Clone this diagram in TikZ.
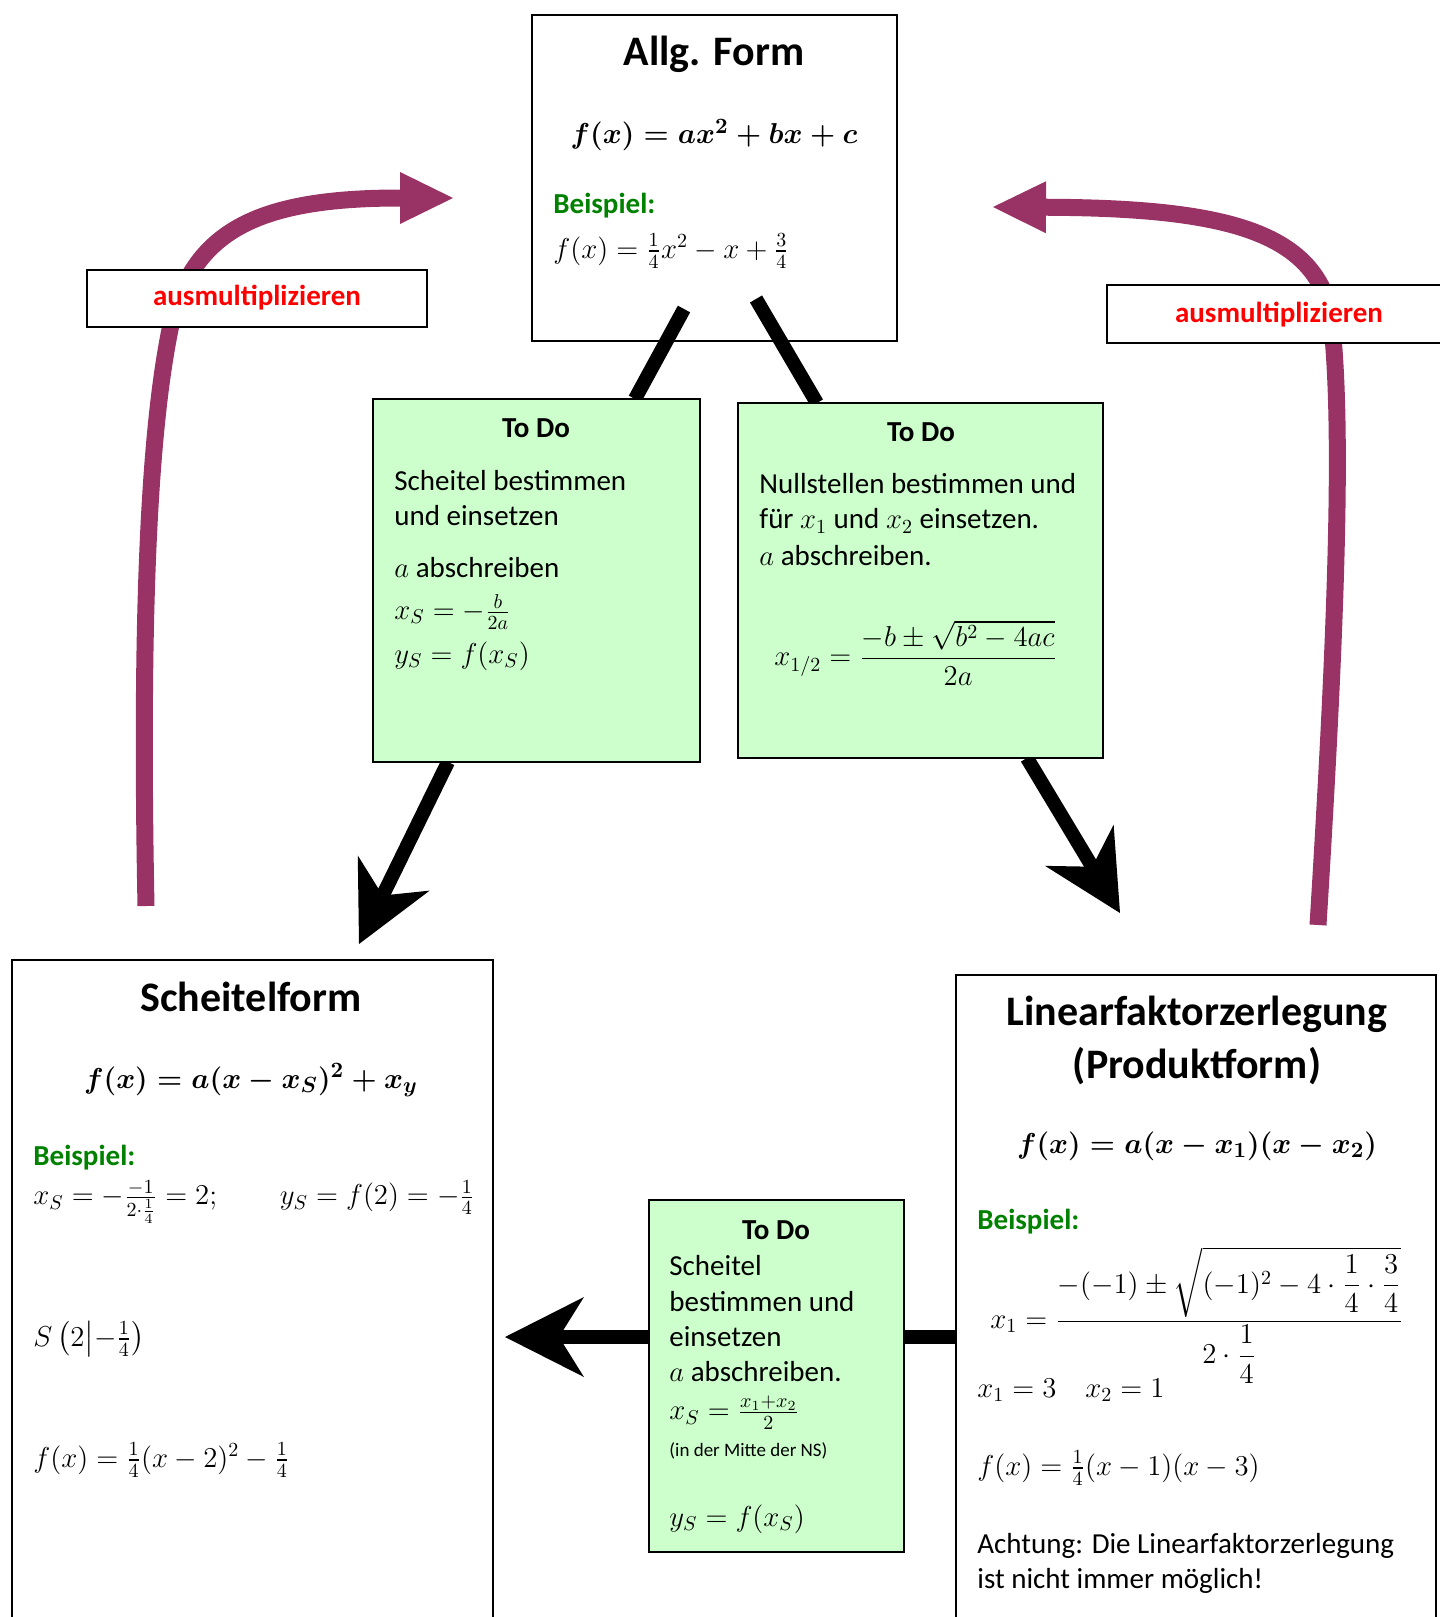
\documentclass[tikz,border=0pt]{standalone}
\usepackage{amsmath}
\usepackage{fontspec}
\setmainfont{Carlito}
\usetikzlibrary{arrows.meta,fit}
\definecolor{pur}{RGB}{153,51,102}
\definecolor{bgreen}{RGB}{0,130,0}
\definecolor{gbox}{RGB}{204,255,204}
\definecolor{lred}{RGB}{255,0,0}
\pgfdeclarelayer{bg}
\pgfsetlayers{bg,main}
\begin{document}
\begin{tikzpicture}[x=0.5pt,y=-0.5pt,
  frame/.style={draw=black, line width=1pt, inner sep=0pt, outer sep=0pt},
  greenbox/.style={frame, fill=gbox},
  labbox/.style={frame, fill=white},
  txt/.style={inner sep=0pt, anchor=west, font=\fontsize{14.5}{17}\selectfont},
  ttl/.style={inner sep=0pt, font=\fontsize{21}{25}\selectfont\bfseries},
  bsp/.style={inner sep=0pt, anchor=west, font=\fontsize{14.5}{17}\selectfont\bfseries, text=bgreen},
  todo/.style={inner sep=0pt, font=\fontsize{14.5}{17}\selectfont\bfseries},
  lab/.style={inner sep=0pt, font=\fontsize{14.5}{17}\selectfont\bfseries, text=lred},
  mathbig/.style={inner sep=0pt, font=\fontsize{15.5}{19}\selectfont},
  smalltxt/.style={inner sep=0pt, anchor=west, font=\fontsize{9.5}{11}\selectfont},
  blk/.style={line width=7pt, draw=black},
  blkarrow/.style={blk, -{Stealth[length=39.5pt,width=40pt,inset=12.5pt,line width=0pt]}},
  purarrow/.style={line width=8.5pt, draw=pur, -{Triangle[length=26.5pt,width=26pt,line width=0pt]}}
]
\useasboundingbox (0,0) rectangle (1440,1617);
\clip (0,0) rectangle (1440,1617);

% boxes
\node[frame, fit={(532,15) (897,341)}] (allg) {};
\node[greenbox, fit={(373,399) (700,762)}] (todo1) {};
\node[greenbox, fit={(738,403) (1103,758)}] (todo2) {};
\node[frame, fill=white, fit={(12,960) (493,1640)}] (scheitel) {};
\node[frame, fill=white, fit={(956,975) (1436,1640)}] (linear) {};
\node[greenbox, fit={(649,1200) (904,1552)}] (todo3) {};
\node[labbox, fit={(87,270) (427,327)}] (lab1) {};
\node[labbox, fit={(1107,285) (1452,343)}] (lab2) {};

% coordinates for free ends
\coordinate (c1s) at (684,309);
\coordinate (c2s) at (756,299);
\coordinate (t1) at (359,944);
\coordinate (t2) at (1120,913);
\coordinate (t3) at (505,1337);
\coordinate (p1s) at (146,906);
\coordinate (p1e) at (453,198);
\coordinate (p2s) at (1318,925);
\coordinate (p2e) at (993,207);

\begin{pgfonlayer}{bg}
  \fill[white] (0,0) rectangle (1440,1617);
  \draw[blk] (c1s) -- (todo1);
  \draw[blk] (c2s) -- (todo2);
  \draw[blkarrow] (todo1) -- (t1);
  \draw[blkarrow] (todo2) -- (t2);
  \draw[blkarrow] (t3 -| linear.west) -- (t3);
  \draw[purarrow] (p1s) .. controls (140,600) and (150,420) .. (172,320)
                        .. controls (195,230) and (260,198) .. (p1e);
  \draw[purarrow] (p2s) .. controls (1335,650) and (1345,420) .. (1330,310)
                        .. controls (1310,230) and (1220,208) .. (p2e);
\end{pgfonlayer}

% labels
\node[lab] (lab1t) at (257,298) {ausmultiplizieren};
\node[lab] (lab2t) at (1279,315) {ausmultiplizieren};

% Allg. Form
\node[ttl] (allgT) at (714,54) {Allg. Form};
\node[mathbig] (allgF) at (714,135) {$\boldsymbol{f(x)=ax^2+bx+c}$};
\node[bsp] (allgB) at (553,206) {Beispiel:};
\node[txt] (allgE) at (553,251) {$f(x)=\frac{1}{4}x^2-x+\frac{3}{4}$};

% To Do 1
\node[todo] (td1T) at (536,428) {To Do};
\node[txt] (td1a) at (394,481) {Scheitel bestimmen};
\node[txt] (td1b) at (394,516) {und einsetzen};
\node[txt] (td1c) at (394,568) {$a$ abschreiben};
\node[txt] (td1d) at (394,612) {$x_S=-\frac{b}{2a}$};
\node[txt] (td1e) at (394,656) {$y_S=f(x_S)$};

% To Do 2
\node[todo] (td2T) at (921,432) {To Do};
\node[txt] (td2a) at (759,484) {Nullstellen bestimmen und};
\node[txt] (td2b) at (759,521) {für $x_1$ und $x_2$ einsetzen.};
\node[txt] (td2c) at (759,556) {$a$ abschreiben.};
\node[txt] (td2d) at (774,653) {$x_{1/2}=\dfrac{-b\pm\sqrt{b^2-4ac}}{2a}$};

% Scheitelform
\node[ttl] (sT) at (251,997) {Scheitelform};
\node[mathbig] (sF) at (251,1080) {$\boldsymbol{f(x)=a(x-x_S)^2+x_y}$};
\node[bsp] (sB) at (33,1158) {Beispiel:};
\node[txt] (sE1) at (33,1202) {$x_S=-\frac{-1}{2\cdot\frac{1}{4}}=2;\qquad y_S=f(2)=-\frac{1}{4}$};
\node[txt] (sE2) at (33,1339) {$S\left(2\middle|-\frac{1}{4}\right)$};
\node[txt] (sE3) at (33,1460) {$f(x)=\frac{1}{4}(x-2)^2-\frac{1}{4}$};

% To Do 3
\node[todo] (td3T) at (776,1230) {To Do};
\node[txt] (td3a) at (669,1266) {Scheitel};
\node[txt] (td3b) at (669,1302) {bestimmen und};
\node[txt] (td3c) at (669,1337) {einsetzen};
\node[txt] (td3d) at (669,1372) {$a$ abschreiben.};
\node[txt] (td3e) at (669,1413) {$x_S=\frac{x_1+x_2}{2}$};
\node[smalltxt] (td3f) at (669,1451) {(in der Mitte der NS)};
\node[txt] (td3g) at (669,1519) {$y_S=f(x_S)$};

% Linearfaktorzerlegung
\node[ttl] (lT1) at (1197,1014) {Linearfaktorzerlegung};
\node[ttl] (lT2) at (1197,1066) {(Produktform)};
\node[mathbig] (lF) at (1197,1146) {$\boldsymbol{f(x)=a(x-x_1)(x-x_2)}$};
\node[bsp] (lB) at (977,1222) {Beispiel:};
\node[txt] (lE1) at (990,1315) {$x_1=\dfrac{-(-1)\pm\sqrt{(-1)^2-4\cdot\dfrac{1}{4}\cdot\dfrac{3}{4}}}{2\cdot\dfrac{1}{4}}$};
\node[txt] (lE2) at (977,1390) {$x_1=3\quad x_2=1$};
\node[txt] (lE3) at (977,1468) {$f(x)=\frac{1}{4}(x-1)(x-3)$};
\node[txt] (lA1) at (977,1546) {Achtung: Die Linearfaktorzerlegung};
\node[txt] (lA2) at (977,1581) {ist nicht immer möglich!};
\end{tikzpicture}
\end{document}
